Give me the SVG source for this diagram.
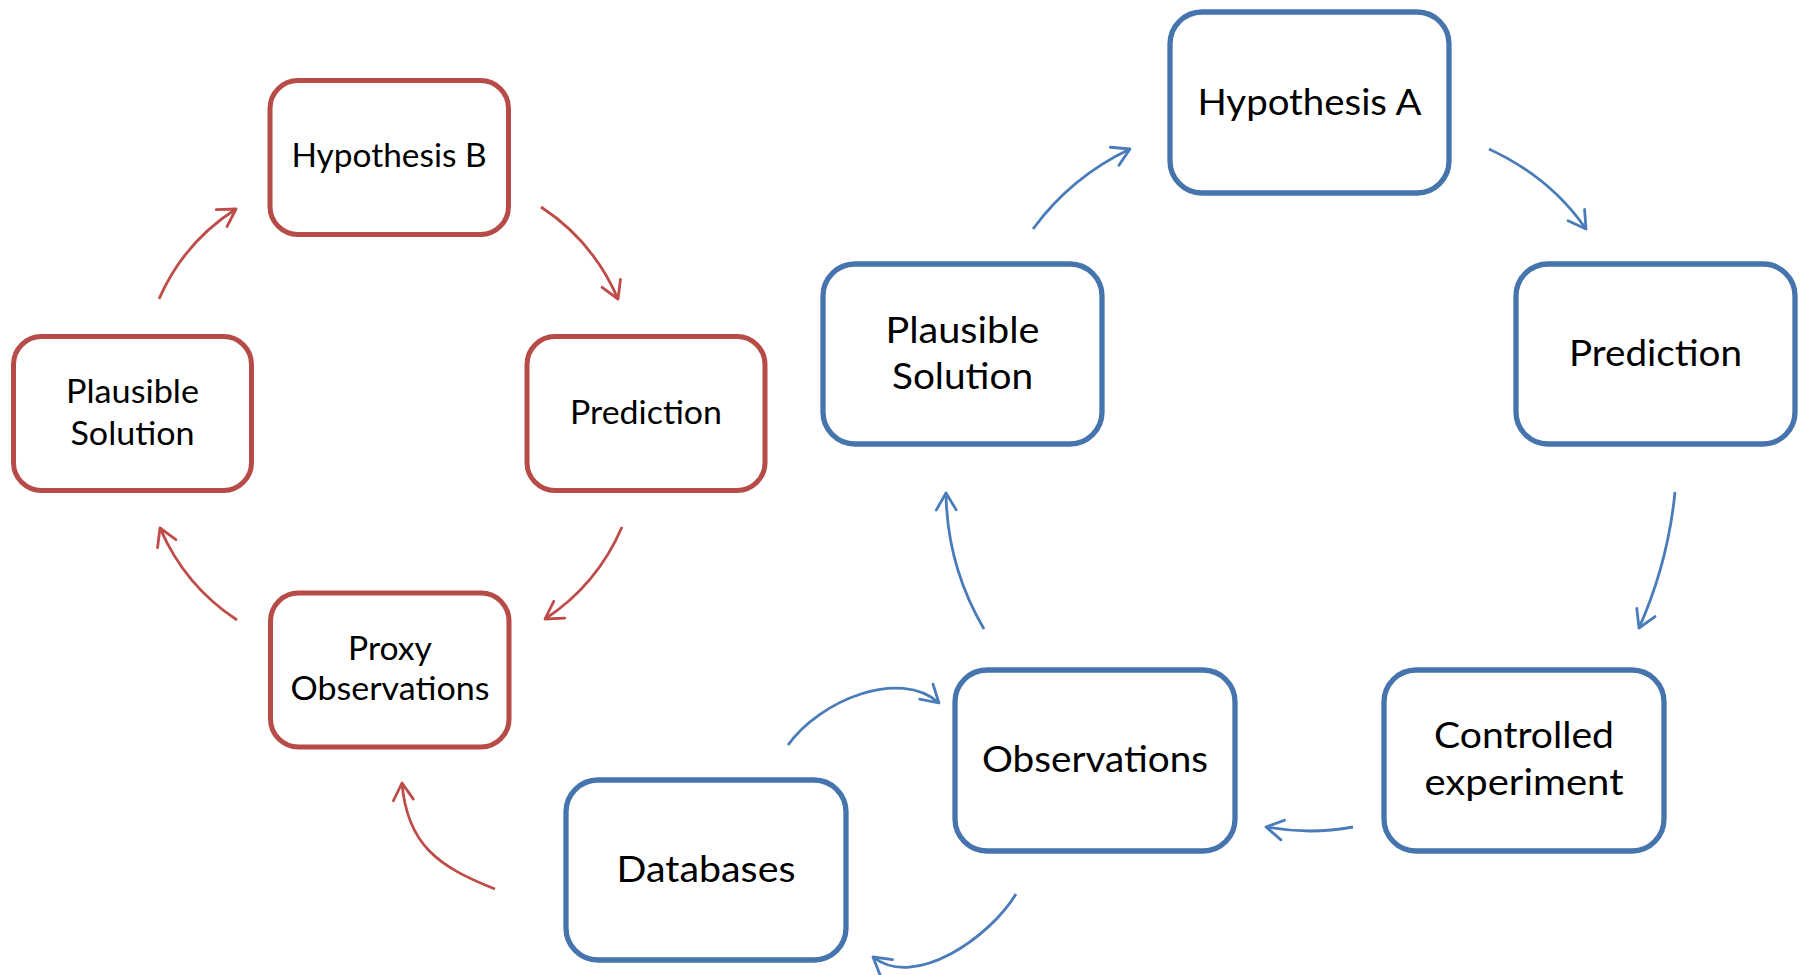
<svg xmlns="http://www.w3.org/2000/svg" width="1804" height="975" viewBox="0 0 1804 975">
<style>
.bg{fill:#ffffff}
.rbox{fill:#ffffff;stroke:#B64B48;stroke-width:5}
.bbox{fill:#ffffff;stroke:#4675AE;stroke-width:5.3}
.rt{font-family:Lato,"Liberation Sans",sans-serif;font-size:32px;fill:#000000;text-anchor:middle}
.bt{font-family:Lato,"Liberation Sans",sans-serif;font-size:36px;fill:#000000;text-anchor:middle}
.rc{fill:none;stroke:#BE4C49;stroke-width:2.8;marker-end:url(#ahr)}
.bc{fill:none;stroke:#4A7CB9;stroke-width:2.8;marker-end:url(#ahb)}
</style>
<defs>
<marker id="ahr" viewBox="-22 -13 26 26" markerWidth="26" markerHeight="26" refX="0" refY="0" orient="auto" markerUnits="userSpaceOnUse" overflow="visible">
<path d="M-17,-10 L0,0 L-17,10" fill="none" stroke="#BE4C49" stroke-width="2.8" stroke-linecap="round" stroke-linejoin="round"/>
</marker>
<marker id="ahb" viewBox="-22 -13 26 26" markerWidth="26" markerHeight="26" refX="0" refY="0" orient="auto" markerUnits="userSpaceOnUse" overflow="visible">
<path d="M-17,-10 L0,0 L-17,10" fill="none" stroke="#4A7CB9" stroke-width="2.8" stroke-linecap="round" stroke-linejoin="round"/>
</marker>
</defs>
<rect class="bg" x="0" y="0" width="1804" height="975"/>

<g id="connectors">
<path class="rc" d="M159,299 Q184,242 236,209"/>
<path class="rc" d="M541,207 Q593,241 618,299"/>
<path class="rc" d="M622,527 Q597,585 545,619"/>
<path class="rc" d="M237,620 Q185,586 160,528"/>
<path class="rc" d="M495,889 C439,867 407,845 402,783"/>
<path class="bc" d="M1033,229 Q1071,177 1130,149"/>
<path class="bc" d="M1489,149 Q1550,177 1586,229"/>
<path class="bc" d="M1675,492 Q1668,563 1639,628"/>
<path class="bc" d="M1353,827 Q1310,835 1266,827"/>
<path class="bc" d="M984,629 Q947,566 946,493"/>
<path class="bc" d="M1016,894 C990,937 915,990 873,957"/>
<path class="bc" d="M788,745 C820,700 900,668 939,703"/>
</g>

<g id="hypothesis-b">
<rect class="rbox" x="270" y="80.5" width="238.5" height="154" rx="28"/>
<text class="rt" x="389" y="167" textLength="195" lengthAdjust="spacingAndGlyphs">Hypothesis B</text>
</g>
<g id="plausible-solution-b">
<rect class="rbox" x="13.5" y="336.5" width="238" height="154" rx="28"/>
<text class="rt" x="132.5" y="403" textLength="133" lengthAdjust="spacingAndGlyphs">Plausible</text>
<text class="rt" x="132.5" y="445" textLength="124" lengthAdjust="spacingAndGlyphs">Solution</text>
</g>
<g id="prediction-b">
<rect class="rbox" x="527" y="336.5" width="238" height="154" rx="28"/>
<text class="rt" x="646" y="424" textLength="152" lengthAdjust="spacingAndGlyphs">Prediction</text>
</g>
<g id="proxy-observations">
<rect class="rbox" x="270.5" y="593" width="238.5" height="154" rx="28"/>
<text class="rt" x="390" y="660" textLength="84" lengthAdjust="spacingAndGlyphs">Proxy</text>
<text class="rt" x="390" y="700" textLength="199" lengthAdjust="spacingAndGlyphs">Observations</text>
</g>

<g id="hypothesis-a">
<rect class="bbox" x="1170" y="12" width="279" height="181" rx="32"/>
<text class="bt" x="1309.5" y="115" textLength="224" lengthAdjust="spacingAndGlyphs">Hypothesis A</text>
</g>
<g id="plausible-solution-a">
<rect class="bbox" x="823" y="264" width="279" height="180" rx="32"/>
<text class="bt" x="962.5" y="343" textLength="154" lengthAdjust="spacingAndGlyphs">Plausible</text>
<text class="bt" x="962.5" y="389" textLength="141" lengthAdjust="spacingAndGlyphs">Solution</text>
</g>
<g id="prediction-a">
<rect class="bbox" x="1516" y="264" width="279" height="180" rx="32"/>
<text class="bt" x="1655.5" y="366" textLength="173" lengthAdjust="spacingAndGlyphs">Prediction</text>
</g>
<g id="controlled-experiment">
<rect class="bbox" x="1384" y="670" width="280" height="181" rx="32"/>
<text class="bt" x="1524" y="748" textLength="180" lengthAdjust="spacingAndGlyphs">Controlled</text>
<text class="bt" x="1524" y="795" textLength="199" lengthAdjust="spacingAndGlyphs">experiment</text>
</g>
<g id="observations">
<rect class="bbox" x="955" y="670" width="280" height="181" rx="32"/>
<text class="bt" x="1095" y="772" textLength="226" lengthAdjust="spacingAndGlyphs">Observations</text>
</g>
<g id="databases">
<rect class="bbox" x="566" y="780" width="280" height="180" rx="32"/>
<text class="bt" x="706" y="882" textLength="179" lengthAdjust="spacingAndGlyphs">Databases</text>
</g>
</svg>
